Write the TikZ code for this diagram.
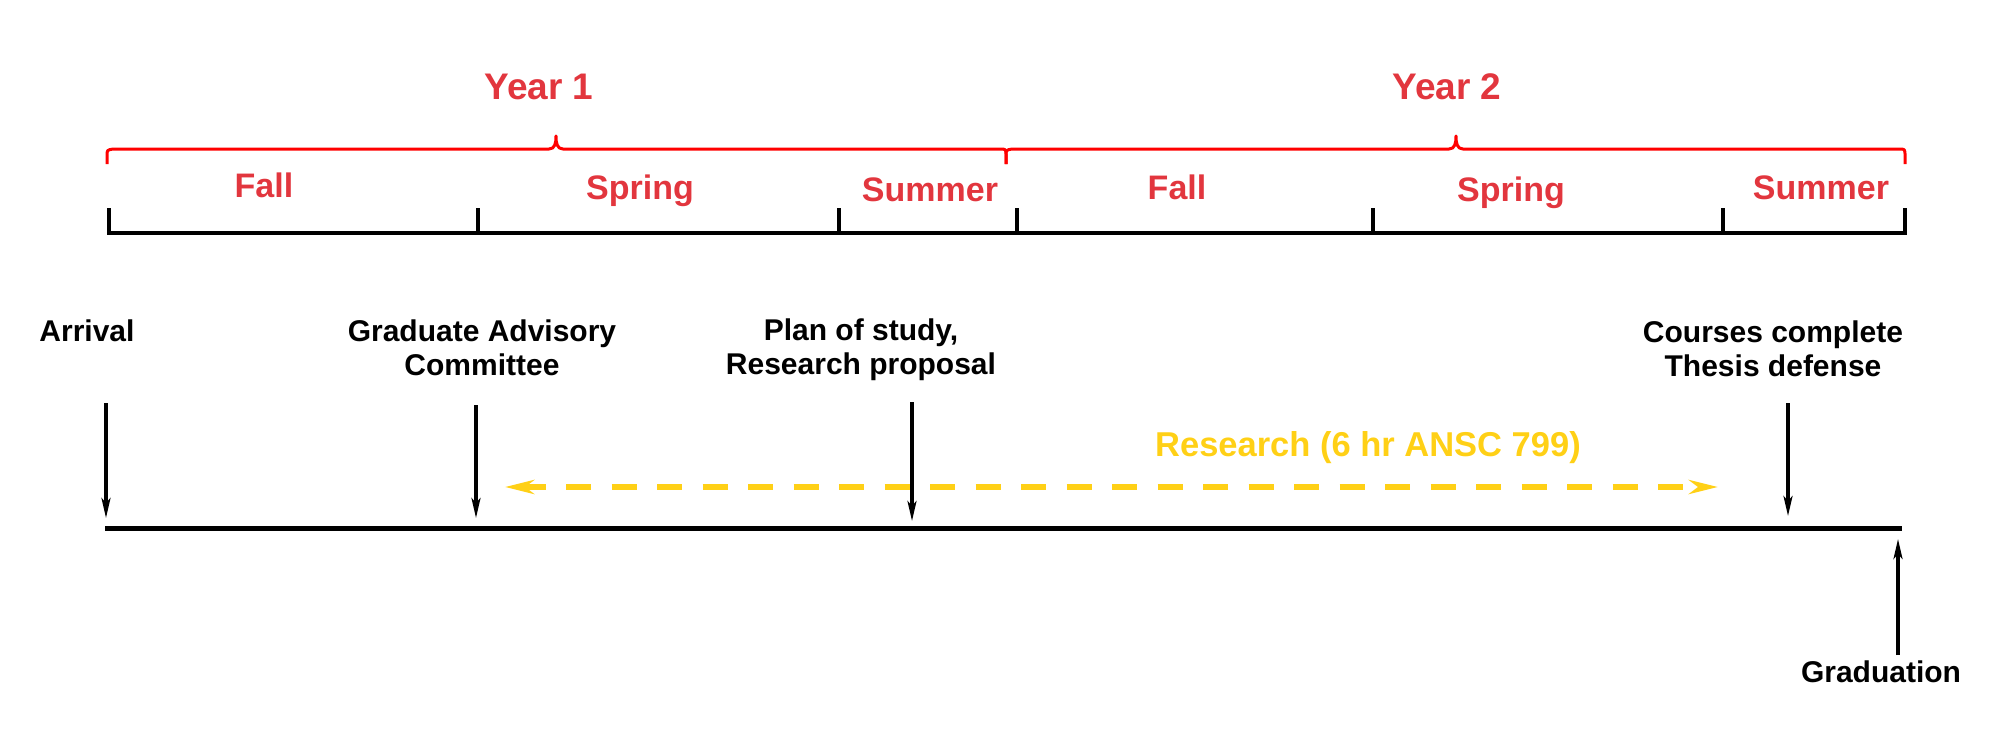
\documentclass[tikz,border=0pt]{standalone}
\usepackage{fontspec}
\setmainfont{Liberation Sans}
\usetikzlibrary{arrows.meta}
\definecolor{tred}{RGB}{226,54,62}
\definecolor{bred}{RGB}{255,0,0}
\definecolor{tyel}{RGB}{255,208,22}
\begin{document}
\begin{tikzpicture}[x=1pt,y=-1pt,
  yearlbl/.style={font=\fontsize{37}{44}\selectfont\bfseries, text=tred, anchor=base, inner sep=0pt},
  semlbl/.style={font=\fontsize{34}{40}\selectfont\bfseries, text=tred, anchor=base, inner sep=0pt},
  mslbl/.style={font=\fontsize{30}{34}\selectfont\bfseries, align=center, anchor=base, inner sep=0pt},
  reslbl/.style={font=\fontsize{34.5}{40}\selectfont\bfseries, text=tyel, anchor=base, inner sep=0pt},
  bracestyle/.style={draw=bred, line width=3pt, line join=round},
  rulerline/.style={draw=black, line width=4pt},
  tlline/.style={draw=black, line width=5pt},
  msarrow/.style={draw=black, line width=3.2pt, -{Stealth[length=20pt,width=9pt,inset=5pt]}},
  resarrow/.style={draw=tyel, line width=6.5pt, dash pattern=on 25pt off 20.5pt, dash phase=1.5pt,
     {Stealth[length=29pt,width=14pt,inset=9pt]}-{Stealth[length=29pt,width=14pt,inset=9pt]}}
]
\useasboundingbox (0,0) rectangle (2000,739);

% braces
\draw[bracestyle] (107,164) -- (107,156) .. controls (107,150) .. (113,149) -- (549,149)
  .. controls (555,149) and (556,143) .. (556,136) .. controls (556,143) and (557,149) .. (563,149)
  -- (1000,149) .. controls (1006,149) .. (1006,156) -- (1006,164);
\draw[bracestyle] (1006,164) -- (1006,156) .. controls (1006,150) .. (1012,149) -- (1449,149)
  .. controls (1455,149) and (1456,143) .. (1456,136) .. controls (1456,143) and (1457,149) .. (1463,149)
  -- (1899,149) .. controls (1905,149) .. (1905,156) -- (1905,164);

% year labels
\node[yearlbl] (y1) at (539,99) {Year 1};
\node[yearlbl] (y2) at (1447,99) {Year 2};

% semester labels
\node[semlbl] (s1) at (264,197) {Fall};
\node[semlbl] (s2) at (640,199) {Spring};
\node[semlbl] (s3) at (930,201) {Summer};
\node[semlbl] (s4) at (1177,199) {Fall};
\node[semlbl] (s5) at (1511,201) {Spring};
\node[semlbl] (s6) at (1821,199) {Summer};

% semester ruler
\coordinate (rL) at (107,233);
\coordinate (rR) at (1907,233);
\draw[rulerline] (rL) -- (rR);
\foreach \x/\n in {109/t1,478/t2,839/t3,1017/t4,1373/t5,1723/t6,1905/t7}{
  \coordinate (\n a) at (\x,208);
  \coordinate (\n b) at (\x,235);
  \draw[rulerline] (\n a) -- (\n b);
}

% milestone labels (base anchor = baseline of last line)
\node[mslbl] (m1) at (87,341) {Arrival};
\node[mslbl] (m2) at (482,375) {Graduate Advisory\\Committee};
\node[mslbl] (m3) at (861,374) {Plan of study,\\Research proposal};
\node[mslbl] (m4) at (1773,376) {Courses complete\\Thesis defense};

% timeline
\coordinate (tlL) at (105,528);
\coordinate (tlR) at (1902,528);
\draw[tlline] (tlL) -- (tlR);

% milestone arrows
\coordinate (a1s) at (106,403); \coordinate (a1e) at (106,518);
\coordinate (a2s) at (476,405); \coordinate (a2e) at (476,518);
\coordinate (a3s) at (912,402); \coordinate (a3e) at (912,521);
\coordinate (a4s) at (1788,403); \coordinate (a4e) at (1788,516);
\draw[msarrow] (a1s) -- (a1e);
\draw[msarrow] (a2s) -- (a2e);
\draw[msarrow] (a3s) -- (a3e);
\draw[msarrow] (a4s) -- (a4e);

% research
\node[reslbl] (res) at (1368,456) {Research (6 hr ANSC 799)};
\coordinate (resL) at (505,487);
\coordinate (resR) at (1718,487);
\draw[resarrow] (resL) -- (resR);

% graduation
\coordinate (gs) at (1898,655);
\coordinate (ge) at (1898,539);
\draw[msarrow] (gs) -- (ge);
\node[mslbl] (grad) at (1881,682) {Graduation};
\end{tikzpicture}
\end{document}
